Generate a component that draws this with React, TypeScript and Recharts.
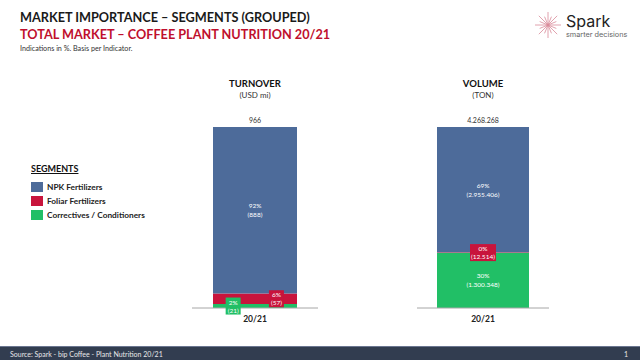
import React from 'react';
import { BarChart, Bar, XAxis, YAxis } from 'recharts';

const segments = ['NPK Fertilizers', 'Foliar Fertilizers', 'Correctives / Conditioners'];
const segmentColors = ['#4d6b9a', '#c8143c', '#21bf66'];
const category = '20/21';

const turnoverValues = [888, 57, 21];
const turnoverPct = ['92%', '6%', '2%'];
const turnoverTotal = 966;

const volumeValues = [2955406, 12514, 1300348];
const volumePct = ['69%', '0%', '30%'];
const volumeTotal = 4268268;

const FONT = 'Lato, "Open Sans", sans-serif';

const fmt = (n: number) => String(n).replace(/\B(?=(\d{3})+(?!\d))/g, '.');

type Cfg = {
  title: string;
  unit: string;
  values: number[];
  pct: string[];
  total: number;
  boxAnchors: { [k: number]: { fx: number; w: number } };
};

function makeInside(cfg: Cfg, idx: number) {
  return (p: any) => {
    const x = Number(p.x), y = Number(p.y), w = Number(p.width), h = Number(p.height);
    const cx = x + w / 2;
    const cy = y + h / 2;
    const lines = [cfg.pct[idx], `(${fmt(cfg.values[idx])})`];
    const box = cfg.boxAnchors[idx];
    const els: any[] = [];
    if (idx === 0) {
      els.push(
        <text key="tot" x={cx} y={y - 4} textAnchor="middle" fontSize={7} fill="#333" fontFamily={FONT}>
          {fmt(cfg.total)}
        </text>
      );
    }
    if (box) {
      const bx = x + w * box.fx;
      els.push(
        <rect key="r" x={bx - box.w / 2} y={cy - 8.5} width={box.w} height={17} fill={segmentColors[idx]} />
      );
      els.push(
        <text key="t1" x={bx} y={cy - 1.5} textAnchor="middle" fontSize={6.5} fill="#fff" fontFamily={FONT}>
          {lines[0]}
        </text>
      );
      els.push(
        <text key="t2" x={bx} y={cy + 6.5} textAnchor="middle" fontSize={6.5} fill="#fff" fontFamily={FONT}>
          {lines[1]}
        </text>
      );
    } else {
      els.push(
        <text key="t1" x={cx} y={cy - 2} textAnchor="middle" fontSize={6.5} fill="#fff" fontFamily={FONT}>
          {lines[0]}
        </text>
      );
      els.push(
        <text key="t2" x={cx} y={cy + 7} textAnchor="middle" fontSize={6.5} fill="#fff" fontFamily={FONT}>
          {lines[1]}
        </text>
      );
    }
    return <g>{els}</g>;
  };
}

function Panel({ cfg, left, width, barSize }: { cfg: Cfg; left: number; width: number; barSize: number }) {
  const row: any = { name: category };
  cfg.values.forEach((v, i) => (row['s' + i] = v));
  const data = [row];
  const order = [2, 1, 0];
  return (
    <div style={{ position: 'absolute', left, top: 78, width }}>
      <div style={{ textAlign: 'center', fontFamily: FONT, fontWeight: 700, fontSize: 9.5, color: '#111', lineHeight: '12px' }}>
        {cfg.title}
      </div>
      <div style={{ textAlign: 'center', fontFamily: FONT, fontSize: 8, color: '#333', lineHeight: '10px' }}>{cfg.unit}</div>
      <div style={{ position: 'absolute', left: 0, top: 22 }}>
        <BarChart width={width} height={230} data={data} margin={{ top: 27, right: 0, bottom: 0, left: 0 }}>
          <YAxis hide domain={[0, cfg.total]} />
          <XAxis
            dataKey="name"
            height={22}
            tickLine={false}
            axisLine={{ stroke: '#a6a6a6', strokeWidth: 1 }}
            tick={{ fontSize: 8.5, fontWeight: 700, fill: '#222', fontFamily: FONT }}
          />
          {order.map((i) => (
            <Bar
              key={i}
              dataKey={'s' + i}
              stackId="a"
              fill={segmentColors[i]}
              barSize={barSize}
              isAnimationActive={false}
              label={makeInside(cfg, i)}
            />
          ))}
        </BarChart>
      </div>
    </div>
  );
}

const turnoverCfg: Cfg = {
  title: 'TURNOVER',
  unit: '(USD mi)',
  values: turnoverValues,
  pct: turnoverPct,
  total: turnoverTotal,
  boxAnchors: { 1: { fx: 0.755, w: 15 }, 2: { fx: 0.24, w: 15 } },
};

const volumeCfg: Cfg = {
  title: 'VOLUME',
  unit: '(TON)',
  values: volumeValues,
  pct: volumePct,
  total: volumeTotal,
  boxAnchors: { 1: { fx: 0.5, w: 26 } },
};

export default function App() {
  return (
    <div style={{ position: 'absolute', left: 0, top: 0, width: 640, height: 360, background: '#fff', overflow: 'hidden', fontFamily: FONT }}>
      <div style={{ position: 'absolute', left: 20, top: 9, fontWeight: 700, fontSize: 12.7, color: '#1a1a1a', lineHeight: '16px', whiteSpace: 'nowrap' }}>
        MARKET IMPORTANCE – SEGMENTS (GROUPED)
      </div>
      <div style={{ position: 'absolute', left: 20, top: 26, fontWeight: 700, fontSize: 12.7, color: '#c00f2d', lineHeight: '16px', whiteSpace: 'nowrap' }}>
        TOTAL MARKET – COFFEE PLANT NUTRITION 20/21
      </div>
      <div style={{ position: 'absolute', left: 20, top: 44, fontSize: 7.2, color: '#333', lineHeight: '10px', whiteSpace: 'nowrap' }}>
        Indications in %. Basis per Indicator.
      </div>

      <svg style={{ position: 'absolute', left: 533, top: 10 }} width={30} height={30}>
        {Array.from({ length: 16 }).map((_, k) => {
          const a = (k * Math.PI) / 8;
          const r = k % 2 === 0 ? 13 : 9;
          return (
            <line key={k} x1={15} y1={15} x2={15 + r * Math.cos(a)} y2={15 + r * Math.sin(a)} stroke="#d98a99" strokeWidth={0.8} />
          );
        })}
      </svg>
      <div style={{ position: 'absolute', left: 566, top: 12, fontSize: 16, color: '#222', lineHeight: '18px', fontFamily: 'Inter, sans-serif' }}>Spark</div>
      <div style={{ position: 'absolute', left: 566, top: 30, fontSize: 7.3, color: '#666', lineHeight: '10px', fontFamily: 'Inter, sans-serif' }}>smarter decisions</div>

      <div style={{ position: 'absolute', left: 31, top: 163, fontWeight: 700, fontSize: 9, color: '#111', textDecoration: 'underline', lineHeight: '12px' }}>
        SEGMENTS
      </div>
      {segments.map((s, i) => (
        <div key={s} style={{ position: 'absolute', left: 31, top: 182 + i * 14, display: 'flex', alignItems: 'center', height: 10 }}>
          <div style={{ width: 12, height: 10, background: segmentColors[i], marginRight: 4 }} />
          <span style={{ fontSize: 8.3, fontWeight: 700, color: '#222', whiteSpace: 'nowrap' }}>{s}</span>
        </div>
      ))}

      <Panel cfg={turnoverCfg} left={192} width={126} barSize={84} />
      <Panel cfg={volumeCfg} left={417} width={132} barSize={92} />

      <div style={{ position: 'absolute', left: 0, top: 346, width: 640, height: 14, background: '#323d50', borderTop: '1px solid #6b7690' }}>
        <span style={{ position: 'absolute', left: 10, top: 2, fontSize: 7, lineHeight: '10px', color: '#e8e8e8', whiteSpace: 'nowrap' }}>
          Source: Spark - bip Coffee - Plant Nutrition 20/21
        </span>
        <span style={{ position: 'absolute', left: 624, top: 2, fontSize: 7, lineHeight: '10px', color: '#e8e8e8' }}>1</span>
      </div>
    </div>
  );
}
